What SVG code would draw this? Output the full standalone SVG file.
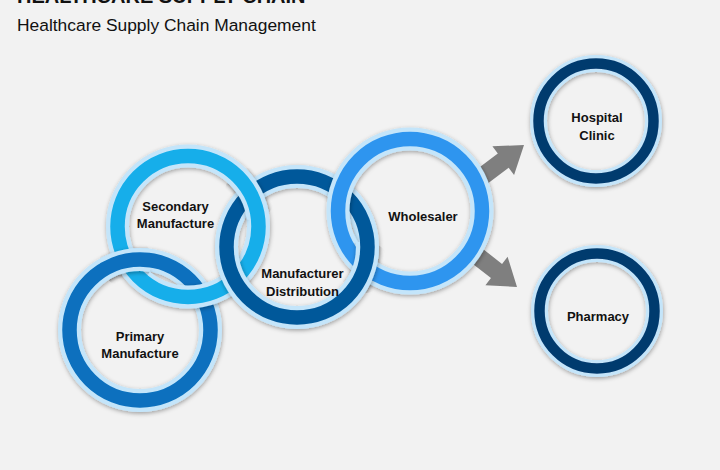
<svg xmlns="http://www.w3.org/2000/svg" xmlns:xlink="http://www.w3.org/1999/xlink" width="720" height="470" viewBox="0 0 720 470">
  <style>
    .lt { fill: none; stroke: #c4e5fa; stroke-width: 23; }
    .lts { fill: none; stroke: #c4e5fa; stroke-width: 17; }
    .bd { fill: none; stroke-width: 14.5; }
    .bds { fill: none; stroke-width: 10.5; }
    .lbl { font-family: "Liberation Sans", Arial, sans-serif; font-weight: bold; font-size: 13px; fill: #111; text-anchor: middle; }
    .arrow { fill: #7f7f7f; }
  </style>
  <defs>
    <filter id="sh" x="-20%" y="-20%" width="140%" height="140%">
      <feDropShadow dx="0.5" dy="1.5" stdDeviation="2" flood-color="#000" flood-opacity="0.35"/>
    </filter>
    <g id="ringP"><circle cx="140" cy="330" r="70.5" class="lt"/><circle cx="140" cy="330" r="70.5" class="bd" stroke="#0a70be"/></g>
    <g id="ringS"><circle cx="188" cy="226.5" r="70.5" class="lt"/><circle cx="188" cy="226.5" r="70.5" class="bd" stroke="#14aeea"/></g>
    <g id="ringD"><circle cx="297" cy="247" r="70.5" class="lt"/><circle cx="297" cy="247" r="70.5" class="bd" stroke="#02589a"/></g>
    <g id="ringW"><circle cx="410" cy="211" r="72" class="lt"/><circle cx="410" cy="211" r="72" class="bd" stroke="#2f95ef"/></g>
    <clipPath id="cP"><circle cx="126" cy="261" r="26"/></clipPath>
    <clipPath id="cS"><circle cx="250.5" cy="194" r="26"/></clipPath>
    <clipPath id="cD"><circle cx="364.6" cy="267" r="26"/></clipPath>
  </defs>

  <rect x="0" y="0" width="720" height="470" fill="#f2f2f2"/>

  <g id="title">
    <text x="17" y="3" font-family="Liberation Sans, Arial, sans-serif" font-weight="bold" font-size="20" fill="#111">HEALTHCARE SUPPLY CHAIN</text>
    <text x="17" y="31" font-family="Liberation Sans, Arial, sans-serif" font-size="17.4" fill="#111">Healthcare Supply Chain Management</text>
  </g>

  <g id="connectors">
    <polygon class="arrow" transform="translate(524,145) rotate(-37)" points="0,0 -26,-18 -26,-9 -58,-9 -58,9 -26,9 -26,18"/>
    <polygon class="arrow" transform="translate(517,287) rotate(38)" points="0,0 -26,-18 -26,-9 -58,-9 -58,9 -26,9 -26,18"/>
  </g>

  <g id="primary-manufacture">
    <use xlink:href="#ringP" href="#ringP" filter="url(#sh)"/>
    <text class="lbl" x="140" y="341">Primary</text>
    <text class="lbl" x="140" y="358">Manufacture</text>
  </g>
  <g id="secondary-manufacture">
    <use xlink:href="#ringS" href="#ringS" filter="url(#sh)"/>
    <text class="lbl" x="175.5" y="211">Secondary</text>
    <text class="lbl" x="175.5" y="228">Manufacture</text>
  </g>
  <g id="manufacturer-distribution">
    <use xlink:href="#ringD" href="#ringD" filter="url(#sh)"/>
    <text class="lbl" x="302.5" y="277.5">Manufacturer</text>
    <text class="lbl" x="302.5" y="295.5">Distribution</text>
  </g>
  <g id="wholesaler">
    <use xlink:href="#ringW" href="#ringW" filter="url(#sh)"/>
    <text class="lbl" x="423" y="220.5">Wholesaler</text>
  </g>

  <g id="interlocks">
    <g clip-path="url(#cP)"><use xlink:href="#ringP" href="#ringP" filter="url(#sh)"/></g>
    <g clip-path="url(#cS)"><use xlink:href="#ringS" href="#ringS" filter="url(#sh)"/></g>
    <g clip-path="url(#cD)"><use xlink:href="#ringD" href="#ringD" filter="url(#sh)"/></g>
  </g>

  <g id="hospital-clinic">
    <g filter="url(#sh)">
      <circle cx="596" cy="121" r="57.5" class="lts"/>
      <circle cx="596" cy="121" r="57.5" class="bds" stroke="#053a6e"/>
    </g>
    <text class="lbl" x="597" y="122">Hospital</text>
    <text class="lbl" x="597" y="140">Clinic</text>
  </g>
  <g id="pharmacy">
    <g filter="url(#sh)">
      <circle cx="597" cy="311" r="57.5" class="lts"/>
      <circle cx="597" cy="311" r="57.5" class="bds" stroke="#053a6e"/>
    </g>
    <text class="lbl" x="598" y="321">Pharmacy</text>
  </g>
</svg>
